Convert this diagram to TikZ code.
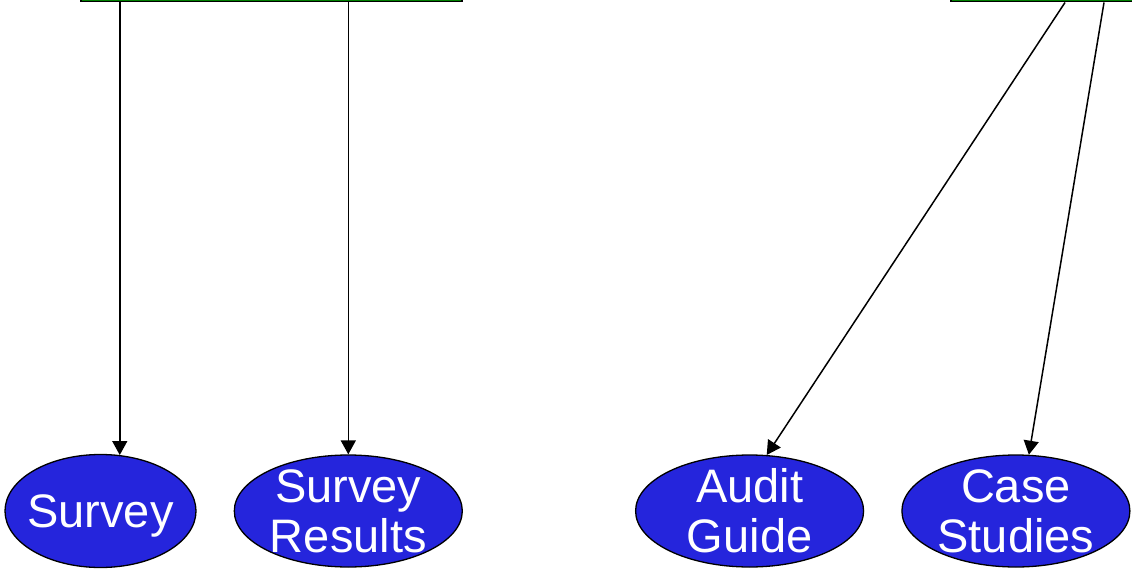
\documentclass[tikz,border=0pt]{standalone}
\usepackage{fontspec}
\setmainfont{Liberation Sans}
\usepackage{tikz}
\usetikzlibrary{positioning,shapes.geometric,arrows.meta}
\definecolor{docblue}{RGB}{37,37,220}
\definecolor{boxgreen}{RGB}{0,128,0}

\begin{document}
\begin{tikzpicture}[
    x=1pt, y=-1pt,
    every edge/.style={-{Triangle[length=14pt,width=15pt]}, draw, line width=1.5pt},
    doc/.style={ellipse, draw, line width=1.3pt, fill=docblue, text=white,
        align=center, inner xsep=-20pt, inner ysep=-40pt,
        minimum width=228pt, minimum height=112pt,
        font=\fontsize{47}{50}\selectfont},
    topbox/.style={draw, line width=1.5pt, fill=boxgreen, minimum height=40pt,
        anchor=south west, inner sep=0pt}]

    \clip (0,0) rectangle (1132,575);
    \useasboundingbox (0,0) rectangle (1132,575);

    % the two boxes cut off at the top
    \node[topbox, minimum width=381pt] (planning) at (80,2.5) {};
    \node[topbox, minimum width=300pt] (review) at (950,2.5) {};

    % documents
    \node[doc, minimum width=191pt, minimum height=113pt, text depth=0pt] (survey) at (100.5,511) {Survey};
    \node[doc, right=37pt of survey] (results) {Survey\\Results};
    \node[doc, right=172pt of results] (audit) {Audit\\Guide};
    \node[doc, right=37pt of audit] (cases) {Case\\Studies};

    \path (survey.71 |- planning.south) edge (survey.71)
          (results.north |- planning.south) edge (results.north)
          ([xshift=115pt]review.south west) edge (audit.73)
          ([xshift=154pt]review.south west) edge (cases.77);

\end{tikzpicture}
\end{document}
